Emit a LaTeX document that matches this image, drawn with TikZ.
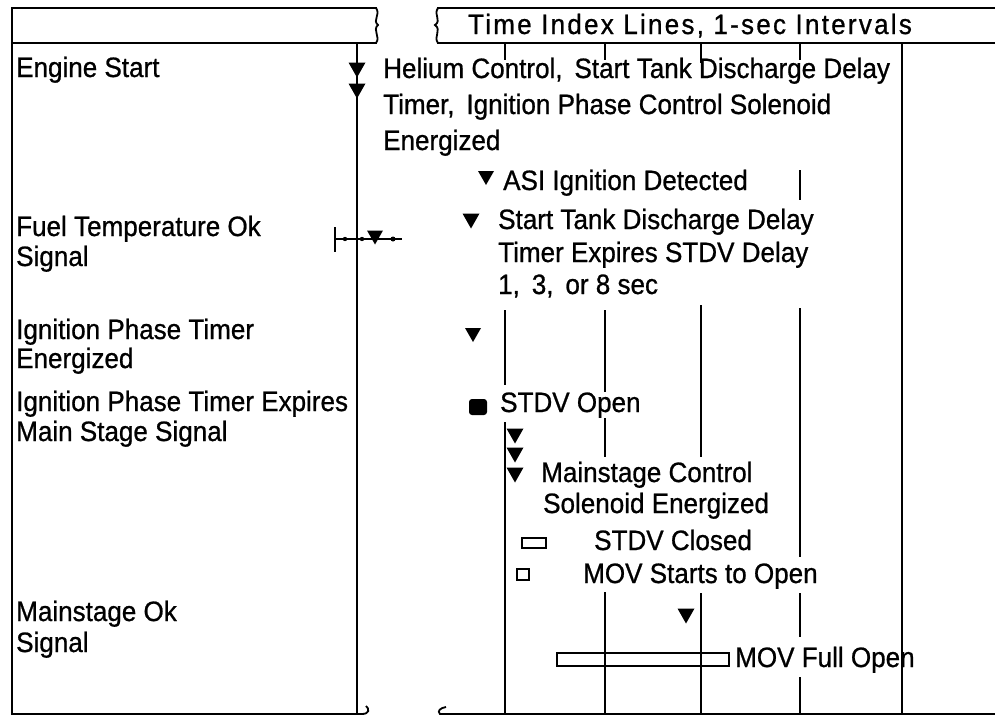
\documentclass[tikz,border=0pt]{standalone}
\usepackage{fontspec}
\setmainfont{Liberation Sans}[FakeBold=0.8,FakeStretch=0.93]
\newfontfamily\hdrfont{Liberation Sans}[LetterSpace=8,FakeBold=0.8,FakeStretch=0.93]
\begin{document}
\begin{tikzpicture}[x=1pt,y=-1pt,
  lbl/.style={anchor=base west,inner sep=0pt,font=\fontsize{28}{30}\selectfont},
  frame/.style={line width=1.8pt},
  tline/.style={line width=1.4pt},
  tridown/.pic={\fill (-8.5,-7.5)--(8.5,-7.5)--(0,7.5)--cycle;},
  trismall/.pic={\fill (-8,-7)--(8,-7)--(0,7)--cycle;}]
\useasboundingbox (0,0) rectangle (995,720);
% left panel frame
\draw[frame] (377,8) -- (12,8) -- (12,714) -- (357,714);
\draw[frame] (12,43) -- (377,43);
\draw[frame] (357,43) -- (357,714);
\draw[frame] (376,8) .. controls (381,15) and (372,20) .. (378,25) .. controls (372,30) and (381,37) .. (376,43);
\draw[frame] (357,714) -- (362,714) .. controls (369,714) and (370,709) .. (366,706);
% right panel frame
\draw[frame] (437,8) -- (995,8);
\draw[frame] (437,43) -- (995,43);
\draw[frame] (438,8) .. controls (433,15) and (442,20) .. (435,25) .. controls (442,30) and (433,37) .. (438,43);
\draw[frame] (446,707) .. controls (440,708) and (437,711) .. (440,714) -- (995,714);
% time index lines
\draw[tline] (505,43)--(505,60) (505,310)--(505,385) (505,422)--(505,714);
\draw[tline] (605,43)--(605,60) (605,310)--(605,457) (605,592)--(605,714);
\draw[tline] (701,43)--(701,63) (701,305)--(701,457) (701,593)--(701,714);
\draw[tline] (800,43)--(800,60) (800,170)--(800,200) (800,308)--(800,557) (800,593)--(800,637) (800,677)--(800,714);
\draw[tline] (902,43)--(902,714);
% header
\node[lbl,anchor=base] (hdr) at (690,34) {\hdrfont Time Index Lines, 1-sec Intervals};
% left labels
\node[lbl] (es) at (16,77) {Engine Start};
\node[lbl] (ft1) at (16,236) {Fuel Temperature Ok};
\node[lbl] (ft2) at (16,266) {Signal};
\node[lbl] (ip1) at (16,339) {Ignition Phase Timer};
\node[lbl] (ip2) at (16,368) {Energized};
\node[lbl] (ix1) at (16,411) {Ignition Phase Timer Expires};
\node[lbl] (ix2) at (16,441) {Main Stage Signal};
\node[lbl] (mo1) at (16,621) {Mainstage Ok};
\node[lbl] (mo2) at (16,652) {Signal};
% right labels
\node[lbl] (he1) at (383,78) {Helium Control,\, Start Tank Discharge Delay};
\node[lbl] (he2) at (383,114) {Timer,\, Ignition Phase Control Solenoid};
\node[lbl] (he3) at (383,150) {Energized};
\node[lbl] (asi) at (503,190) {ASI Ignition Detected};
\node[lbl] (sd1) at (498,229) {Start Tank Discharge Delay};
\node[lbl] (sd2) at (498,262) {Timer Expires STDV Delay};
\node[lbl] (sd3) at (498,294) {1,\, 3,\, or 8 sec};
\node[lbl,fill=white,inner xsep=2pt] (so) at (498,412) {STDV Open};
\node[lbl] (mc1) at (541,482) {Mainstage Control};
\node[lbl] (mc2) at (543,513) {Solenoid Energized};
\node[lbl] (sc) at (594,550) {STDV Closed};
\node[lbl] (ms) at (583,583) {MOV Starts to Open};
\node[lbl] (mf) at (735,667) {MOV Full Open};
% event symbols
\pic at (357,70) {tridown};
\pic at (357,91) {tridown};
\pic at (486,178) {trismall};
\pic at (471,221) {tridown};
\pic at (473,335) {trismall};
\fill[rounded corners=3pt] (469,399) rectangle (487,415);
\pic at (515,436) {tridown};
\pic at (515,455) {tridown};
\pic at (515,475) {tridown};
\draw[line width=1.6pt] (522,538) rectangle (546,548);
\draw[line width=1.6pt] (517,569) rectangle (529,580);
\pic at (686,616) {tridown};
\draw[line width=1.6pt] (557,653) rectangle (729,666);
% fuel temperature marker
\draw[line width=1.6pt] (335,227)--(335,252);
\draw[line width=1.3pt] (335,239)--(402,239);
\fill (345,239) circle (2.2) (362,239) circle (2.2) (393,239) circle (2.5);
\pic at (375,237.5) {trismall};
\end{tikzpicture}
\end{document}
